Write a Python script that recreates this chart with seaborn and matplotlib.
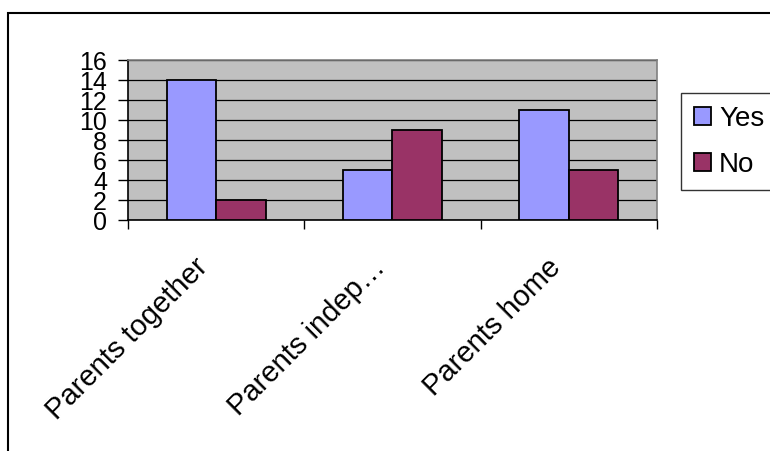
import matplotlib
matplotlib.use("Agg")
import matplotlib.pyplot as plt
import matplotlib.transforms as mtransforms
from matplotlib import font_manager
import seaborn as sns
import pandas as pd
from matplotlib.patches import Rectangle

categories = ["Parents together", "Parents indep…", "Parents home"]
series_names = ["Yes", "No"]
yes_values = [14, 5, 11]
no_values = [2, 9, 5]
y_ticks = [0, 2, 4, 6, 8, 10, 12, 14, 16]

df = pd.DataFrame({
    "category": categories * 2,
    "series": [series_names[0]] * 3 + [series_names[1]] * 3,
    "value": yes_values + no_values,
})

sns.set_theme(style="white")
plt.rcParams["font.family"] = ["Liberation Sans", "DejaVu Sans"]
plt.rcParams["text.color"] = "black"
plt.rcParams["xtick.color"] = "black"
plt.rcParams["ytick.color"] = "black"

installed = {f.name for f in font_manager.fontManager.ttflist}
narrow = "Liberation Sans Narrow" in installed

fig = plt.figure(figsize=(7.7, 4.51), dpi=100)
W, H = 770, 451
ax = fig.add_axes([128 / W, 1 - 220 / H, (657 - 128) / W, (220 - 60) / H])
ax.set_facecolor("#C0C0C0")

sns.barplot(data=df, x="category", y="value", hue="series",
            palette={"Yes": "#9999FF", "No": "#993366"}, saturation=1,
            width=0.56, edgecolor="black", linewidth=1.3,
            ax=ax, legend=True, zorder=3)

ax.set_ylim(0, 16)
ax.set_xlim(-0.5, 2.5)
ax.set_yticks(y_ticks)
if narrow:
    ax.set_yticklabels([str(v) for v in y_ticks], fontsize=21,
                       family=["Liberation Sans Narrow", "Liberation Sans"])
else:
    ax.set_yticklabels([str(v) for v in y_ticks], fontsize=18)
ax.yaxis.grid(True, color="black", linewidth=0.9, zorder=0)
ax.set_axisbelow(True)
ax.tick_params(axis="y", direction="out", length=7.2, width=1, color="black",
               left=True, pad=8, labelcolor="black")
ax.set_xticks([-0.5, 0.5, 1.5, 2.5], minor=False)
ax.set_xticklabels([])
ax.set_xticks([0, 1, 2], minor=True)
ax.set_xticklabels(categories, minor=True, rotation=45, ha="right", va="top",
                   rotation_mode="anchor", fontsize=21, color="black")
ax.tick_params(axis="x", which="major", direction="out", length=6.5, width=1,
               color="black", bottom=True)
ax.tick_params(axis="x", which="minor", length=0, pad=0)
offset = mtransforms.ScaledTranslation(-22 / 100, -33 / 100, fig.dpi_scale_trans)
for lab in ax.get_xticklabels(minor=True):
    lab.set_transform(lab.get_transform() + offset)
ax.set_xlabel("")
ax.set_ylabel("")
for s in ["left", "bottom"]:
    ax.spines[s].set_color("black")
    ax.spines[s].set_linewidth(1.2)
for s in ["top", "right"]:
    ax.spines[s].set_color("#808080")
    ax.spines[s].set_linewidth(1.2)

leg = ax.legend(loc="upper left",
                bbox_to_anchor=(681 / W, 1 - 189 / H, 110 / W, 96 / H),
                bbox_transform=fig.transFigure, mode="expand", fontsize=20,
                frameon=True, fancybox=False, edgecolor="black",
                handlelength=0.62, handleheight=0.62, handletextpad=0.3,
                labelspacing=0.72, borderpad=0.45, borderaxespad=0)
leg.get_frame().set_linewidth(1)
for t in leg.get_texts():
    t.set_color("black")
for h in leg.legend_handles:
    h.set_edgecolor("black")
    h.set_linewidth(1.3)

fig.patches.append(Rectangle((8 / W, -0.1), 1.2, 1 - 13 / H + 0.1,
                             transform=fig.transFigure, fill=False,
                             edgecolor="black", linewidth=1.5, clip_on=False))

fig.savefig("out.png", dpi=100)
